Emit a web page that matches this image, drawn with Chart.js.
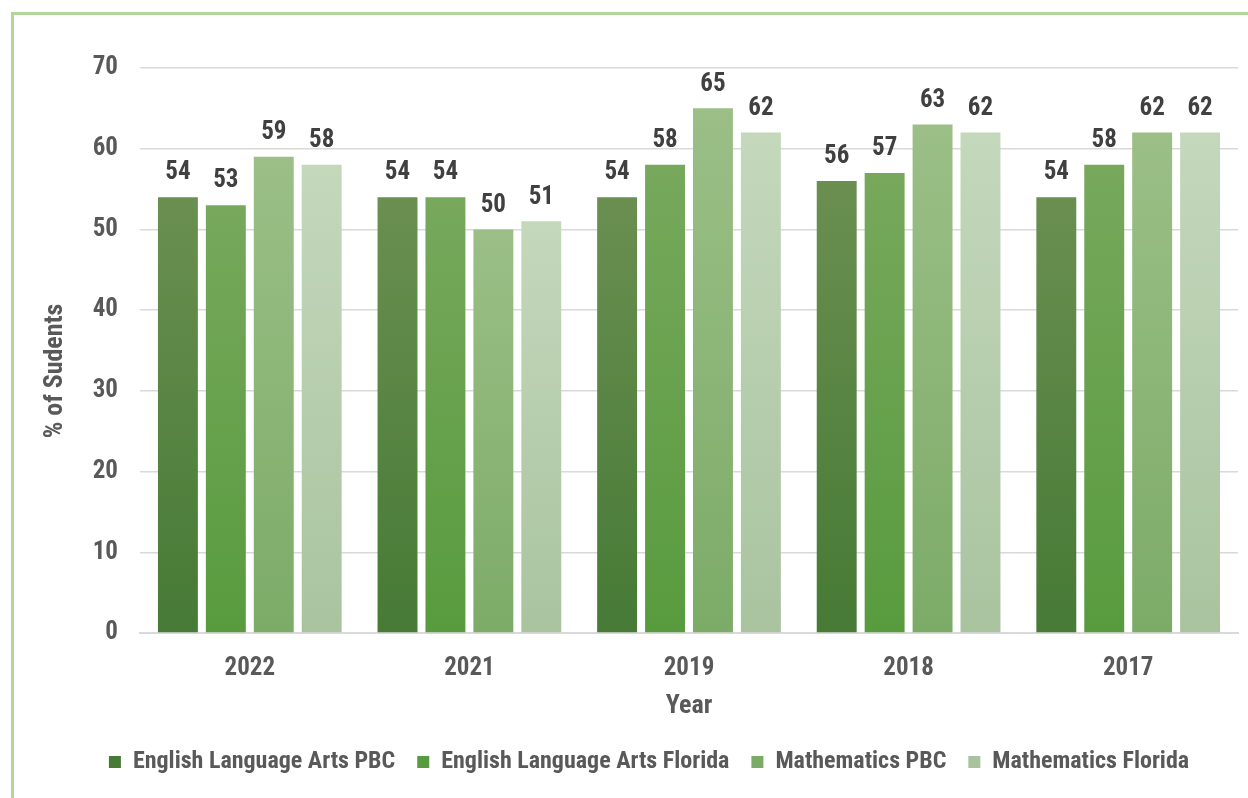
<!DOCTYPE html>
<html>
<head>
<meta charset="utf-8">
<script src="https://cdn.jsdelivr.net/npm/chart.js@4.4.1/dist/chart.umd.min.js"></script>
<style>
  html, body { margin: 0; padding: 0; background: #fff; overflow: hidden; }
  #wrap { position: relative; width: 1248px; height: 798px; }
  #frame { position: absolute; left: 11px; top: 12px; width: 1400px; height: 1000px;
           border-left: 3px solid #b3d79b; border-top: 3px solid #b3d79b; }
  canvas { position: absolute; left: 0; top: 0; }
</style>
</head>
<body>
<div id="wrap">
  <div id="frame"></div>
  <canvas id="myChart" width="1248" height="798"></canvas>
</div>
<script>
const years = ['2022', '2021', '2019', '2018', '2017'];
const elaPBC = [54, 54, 54, 56, 54];
const elaFlorida = [53, 54, 58, 57, 58];
const mathPBC = [59, 50, 65, 63, 62];
const mathFlorida = [58, 51, 62, 62, 62];
const yTicks = [0, 10, 20, 30, 40, 50, 60, 70];

const FONT = "'Roboto Condensed', Roboto, sans-serif";

// top / bottom colours of each bar gradient
const shades = [
  ['#6a8f50', '#467a35'],
  ['#77a85c', '#589b3e'],
  ['#9bbf87', '#7cab67'],
  ['#c4d8bc', '#a9c39f']
];

function barFill(i) {
  return function (c) {
    const chart = c.chart;
    if (!chart.chartArea || c.type !== 'data') return shades[i][1];
    const y = chart.scales.y;
    const top = y.getPixelForValue(c.raw);
    const base = y.getPixelForValue(0);
    const g = chart.ctx.createLinearGradient(0, top, 0, base);
    g.addColorStop(0, shades[i][0]);
    g.addColorStop(1, shades[i][1]);
    return g;
  };
}

// value labels above the bars + y axis title
const extraText = {
  id: 'extraText',
  afterDatasetsDraw(chart) {
    const ctx = chart.ctx;
    ctx.save();
    ctx.font = 'bold 25px ' + FONT;
    ctx.fillStyle = '#404040';
    ctx.textAlign = 'center';
    ctx.textBaseline = 'middle';
    chart.data.datasets.forEach((ds, i) => {
      chart.getDatasetMeta(i).data.forEach((bar, j) => {
        ctx.fillText(ds.data[j], bar.x, bar.y - 24);
      });
    });
    ctx.restore();

    ctx.save();
    ctx.font = 'bold 26px ' + FONT;
    ctx.fillStyle = '#595959';
    ctx.textAlign = 'center';
    ctx.textBaseline = 'middle';
    ctx.translate(55, 371);
    ctx.rotate(-Math.PI / 2);
    ctx.fillText('% of Sudents', 0, 0);
    ctx.restore();
  }
};

const ctx = document.getElementById('myChart');

new Chart(ctx, {
  type: 'bar',
  data: {
    labels: years,
    datasets: [
      { label: 'English Language Arts PBC', data: elaPBC, backgroundColor: barFill(0) },
      { label: 'English Language Arts Florida', data: elaFlorida, backgroundColor: barFill(1) },
      { label: 'Mathematics PBC', data: mathPBC, backgroundColor: barFill(2) },
      { label: 'Mathematics Florida', data: mathFlorida, backgroundColor: barFill(3) }
    ]
  },
  options: {
    responsive: false,
    animation: false,
    devicePixelRatio: 1,
    categoryPercentage: 0.873,
    barPercentage: 0.833,
    layout: { padding: { left: 60, right: 10, top: 68, bottom: 14 } },
    plugins: {
      tooltip: { enabled: false },
      legend: {
        position: 'bottom',
        labels: {
          boxWidth: 12,
          boxHeight: 12,
          padding: 22,
          color: '#595959',
          font: { family: FONT, size: 24, weight: 'bold' },
          generateLabels(chart) {
            return chart.data.datasets.map((ds, i) => ({
              text: ds.label,
              fillStyle: shades[i][1],
              strokeStyle: shades[i][1],
              lineWidth: 0,
              datasetIndex: i,
              fontColor: '#595959'
            }));
          }
        }
      }
    },
    scales: {
      x: {
        afterFit(scale) { scale.height = 95; },
        grid: { display: false },
        border: { display: true, color: '#d9d9d9', width: 2 },
        ticks: { color: '#595959', padding: 13, font: { family: FONT, size: 25, weight: 'bold' } },
        title: {
          display: true, text: 'Year', color: '#595959',
          font: { family: FONT, size: 26, weight: 'bold' }, padding: { top: 0, bottom: 6 }
        }
      },
      y: {
        min: 0,
        max: 70,
        afterBuildTicks(scale) { scale.ticks = yTicks.map(v => ({ value: v })); },
        afterFit(scale) { scale.width = 80; },
        grid: { color: '#d9d9d9', lineWidth: 1.5, drawTicks: false },
        border: { display: false },
        ticks: { color: '#595959', padding: 22, font: { family: FONT, size: 25, weight: 'bold' } }
      }
    }
  },
  plugins: [extraText]
});
</script>
</body>
</html>
